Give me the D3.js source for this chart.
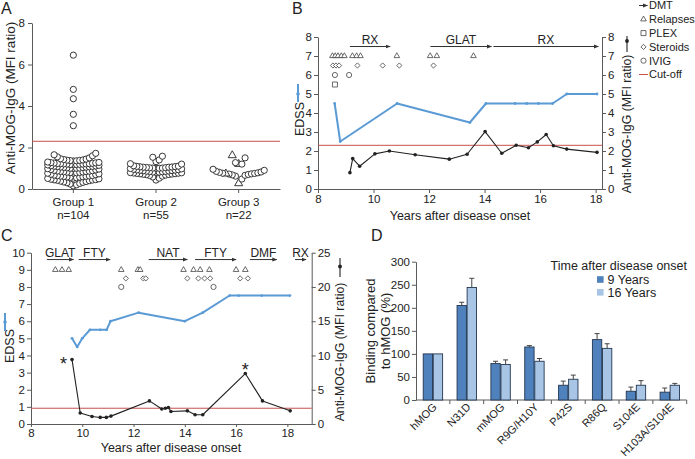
<!DOCTYPE html>
<html><head><meta charset="utf-8">
<script src="https://cdn.jsdelivr.net/npm/d3@7"></script>
<style>
body{margin:0;background:#fff;}
svg{display:block;}
</style></head><body>
<svg id="c" width="695" height="459"></svg>
<script>
// ---------------- DATA ----------------
// Panel A
const groups = ["Group 1", "Group 2", "Group 3"];
const groupN = ["n=104", "n=55", "n=22"];
const group1 = [0.15,0.2,0.24,0.27,0.3,0.32,0.34,0.36,0.38,0.4,0.42,0.43,0.44,0.45,0.47,0.49,0.51,
  0.52,0.54,0.56,0.57,0.58,0.59,0.6,0.61,0.62,0.63,0.64,0.65,0.67,0.69,0.71,0.73,0.76,
  0.77,0.78,0.79,0.8,0.81,0.82,0.83,0.84,0.85,0.86,0.87,0.88,0.9,0.92,0.94,0.96,0.98,
  0.99,1.0,1.0,1.01,1.02,1.03,1.04,1.05,1.06,1.07,1.08,1.09,1.1,1.11,1.12,1.14,1.16,
  1.17,1.18,1.18,1.19,1.2,1.2,1.21,1.21,1.22,1.22,1.23,1.24,1.25,1.26,1.27,1.28,1.3,
  1.35,1.36,1.37,1.38,1.39,1.4,1.42,1.44,1.46,1.5,1.55,1.6,1.65,1.72,
  3.05,3.6,4.35,4.8,6.45];
const group2 = [0.43,0.52,0.58,0.62,0.65,0.67,0.69,0.7,0.71,0.72,0.73,0.74,0.75,0.76,0.77,0.78,0.79,
  0.8,0.81,0.82,0.83,0.84,0.85,0.86,0.87,0.88,0.89,0.9,0.91,0.92,0.93,0.95,0.97,0.99,
  1.0,1.0,1.01,1.01,1.02,1.03,1.04,1.05,1.05,1.06,1.07,1.08,1.09,1.1,1.12,1.2,1.22,
  1.32,1.4,1.53,1.58];
const group3 = [0.27,0.48,0.62,0.66,0.68,0.7,0.72,0.73,0.74,0.75,0.76,0.78,0.8,0.82,0.85,0.9,0.95,
  1.2,1.2,1.27,1.5,1.62];
const group3Shapes = ["t","c","c","c","c","c","c","c","t","c","c","c","c","c","c","c","c",
  "t","c","c","c","t"];
const cutoff = 2.3;
const yTicksA = [0, 2, 4, 6, 8];

// Panel B
const bEdssYears = [8.6, 8.8, 10.85, 13.47, 14.05, 15.1, 15.52, 15.94, 16.45, 16.96, 18.05];
const bEdss      = [4.5, 2.5, 4.5, 3.5, 4.5, 4.5, 4.5, 4.5, 4.5, 5, 5];
const bMfiYears = [9.15, 9.25, 9.5, 10.05, 10.57, 11.5, 12.73, 13.37, 14.02, 14.62, 15.14, 15.58, 15.9, 16.22, 16.48, 16.96, 18.05];
const bMfi      = [0.86, 1.6, 1.2, 1.85, 2.0, 1.8, 1.57, 1.83, 3.02, 1.88, 2.3, 2.17, 2.48, 2.87, 2.28, 2.1, 1.93];
const bRelapses = [8.52, 8.62, 8.72, 8.84, 8.95, 9.24, 9.39, 9.53, 10.84, 12.04, 12.28, 13.6];
const bSteroids = [8.54, 8.65, 8.76, 9.42, 10.33, 10.93, 12.16];
const bIvig = [8.61, 9.12];
const bPlex = [8.61];
const bDmtNames = ["RX", "GLAT", "RX"];
const bDmtStart = [9.15, 12.05, 14.32];
const bDmtEnd   = [10.6, 14.25, 18.1];
const xTicksB = [8, 10, 12, 14, 16, 18];
const yTicksB = [0, 1, 2, 3, 4, 5, 6, 7, 8];
const legendLabels = ["DMT", "Relapses", "PLEX", "Steroids", "IVIG", "Cut-off"];

// Panel C
const cEdssYears = [9.6, 9.8, 10.0, 10.3, 10.7, 10.95, 11.1, 12.2, 14.0, 14.7, 15.75, 16.1, 17.0, 18.1];
const cEdss      = [5, 4.5, 5, 5.5, 5.5, 5.5, 6, 6.5, 6, 6.5, 7.5, 7.5, 7.5, 7.5];
const cMfiYears = [9.6, 9.92, 10.38, 10.7, 10.94, 11.12, 12.62, 13.1, 13.24, 13.36, 13.46, 14.1, 14.4, 14.7, 16.36, 17.03, 18.11];
const cMfi      = [9.4, 1.6, 1.1, 0.96, 0.96, 1.15, 3.37, 2.2, 2.3, 2.4, 1.83, 1.92, 1.35, 1.35, 7.36, 3.37, 1.92];
const cStarYears = [9.6, 16.36];
const cRelapses = [8.95, 9.21, 9.47, 11.52, 12.17, 12.26, 13.95, 14.34, 14.6, 14.96, 16.0, 16.36];
const cSteroids = [11.7, 12.38, 12.48, 14.1, 14.53, 14.77, 14.99, 16.16, 16.46];
const cIvig = [11.52, 15.12];
const cDmtNames = ["GLAT", "FTY", "NAT", "FTY", "DMF", "RX"];
const cDmtStart = [8.62, 9.86, 12.59, 14.4, 16.54, 18.3];
const cDmtEnd   = [9.66, 11.09, 14.1, 16.0, 17.59, 18.73];
const xTicksC = [8, 10, 12, 14, 16, 18];
const yTicksCL = [0,1,2,3,4,5,6,7,8,9,10];
const yTicksCR = [0, 5, 10, 15, 20, 25];

// Panel D
const dCats = ["hMOG", "N31D", "mMOG", "R9G/H10Y", "P42S", "R86Q", "S104E", "H103A/S104E"];
const dSeries = ["9 Years", "16 Years"];
const d9    = [100, 205, 79, 115, 32, 131, 19, 17];
const d9Err = [0, 7, 5, 3, 9, 13, 9, 9];
const d16    = [100, 244, 77, 84, 45, 112, 32, 32];
const d16Err = [0, 20, 10, 6, 9, 10, 10, 4];
const yTicksD = [0, 50, 100, 150, 200, 250, 300];

// ---------------- STYLE ----------------
const FONT = '"Liberation Sans", Arial, Helvetica, sans-serif';
const AX = "#5a5a5a", TXT = "#222";
const BLUE = "#5b9bd5", RED = "#c8504d", SYM = "#444";
const DARKBAR = "#4f81bd", LIGHTBAR = "#a8c5e6", BARSTROKE = "#23364f";

const svg = d3.select("#c").style("font-family", FONT);
const defs = svg.append("defs");
defs.append("marker").attr("id", "ah").attr("viewBox", "0 0 10 10").attr("refX", 9).attr("refY", 5)
  .attr("markerWidth", 5).attr("markerHeight", 5).attr("orient", "auto")
  .append("path").attr("d", "M0,1 L10,5 L0,9 Z").attr("fill", "#333");

function styleAxis(g, fs) {
  g.attr("font-family", null).attr("font-size", null);
  g.select(".domain").attr("stroke", AX);
  g.selectAll(".tick line").attr("stroke", AX);
  g.selectAll(".tick text").attr("fill", TXT).style("font-size", fs + "px").style("font-family", FONT);
}
function triPath(x, y, s) {
  const h = s * 0.866;
  return `M${x},${y - h * 2 / 3}L${x + s / 2},${y + h / 3}L${x - s / 2},${y + h / 3}Z`;
}
function diaPath(x, y, r) { return `M${x},${y - r}L${x + r},${y}L${x},${y + r}L${x - r},${y}Z`; }
function sqPath(x, y, s) { return `M${x - s / 2},${y - s / 2}h${s}v${s}h${-s}Z`; }
function rotText(x, y, txt, fs) {
  return svg.append("text").attr("transform", `translate(${x},${y}) rotate(-90)`)
    .attr("text-anchor", "middle").attr("dy", "0.35em").attr("fill", TXT)
    .style("font-size", fs + "px").text(txt);
}
function panelLetter(x, y, t) {
  svg.append("text").attr("x", x).attr("y", y).attr("fill", TXT).style("font-size", "16px").text(t);
}

// ---------------- PANEL A ----------------
panelLetter(1, 14, "A");
const xA = d3.scaleBand().domain(groups).range([32, 280]);
const yA = d3.scaleLinear().domain([0, 8]).range([189, 23]);
svg.append("g").attr("transform", "translate(32,0)")
  .call(d3.axisLeft(yA).tickValues(yTicksA).tickSize(4).tickSizeOuter(0).tickPadding(3))
  .call(g => styleAxis(g, 11.5));
svg.append("g").attr("transform", "translate(0,189)")
  .call(d3.axisBottom(xA).tickSize(4).tickSizeOuter(0).tickFormat(""))
  .call(g => styleAxis(g, 11.5));
groups.forEach((gname, i) => {
  const cx = xA(gname) + xA.bandwidth() / 2;
  svg.append("text").attr("x", cx).attr("y", 205.5).attr("text-anchor", "middle").attr("fill", TXT)
    .style("font-size", "11.5px").text(gname);
  svg.append("text").attr("x", cx).attr("y", 218.5).attr("text-anchor", "middle").attr("fill", TXT)
    .style("font-size", "11.5px").text(groupN[i]);
});
rotText(10, 98, "Anti-MOG-IgG (MFI ratio)", 13.5);
svg.append("line").attr("x1", 32).attr("x2", 280).attr("y1", yA(cutoff)).attr("y2", yA(cutoff))
  .attr("stroke", RED).attr("stroke-width", 1);

function swarm(values, shapes, cx) {
  const pts = [];
  const low = values.map((v, i) => i).filter(i => values[i] < cutoff).sort((a, b) => values[a] - values[b]);
  const step = 3.2, size = 17;
  for (let s = 0; s < low.length; s += size) {
    const chunk = low.slice(s, s + size);
    chunk.forEach((idx, j) => {
      const k = j === 0 ? 0 : (j % 2 === 1 ? (j + 1) / 2 : -j / 2);
      pts.push({ x: cx + k * step, v: values[idx], s: shapes ? shapes[idx] : "c" });
    });
  }
  values.forEach((v, i) => { if (v >= cutoff) pts.push({ x: cx, v: v, s: shapes ? shapes[i] : "c" }); });
  return pts;
}
[group1, group2, group3].forEach((vals, gi) => {
  const cx = xA(groups[gi]) + xA.bandwidth() / 2;
  const pts = swarm(vals, gi === 2 ? group3Shapes : null, cx);
  const g = svg.append("g");
  pts.forEach(p => {
    if (p.s === "t") {
      g.append("path").attr("d", triPath(p.x, yA(p.v), 8)).attr("fill", "#fff")
        .attr("stroke", "#222").attr("stroke-width", 0.9);
    } else {
      g.append("circle").attr("cx", p.x).attr("cy", yA(p.v)).attr("r", 3.1)
        .attr("fill", "#fff").attr("stroke", "#222").attr("stroke-width", 0.9);
    }
  });
});

// ---------------- PANEL B ----------------
panelLetter(292, 14, "B");
const xB = d3.scaleLinear().domain([8, 18.23]).range([318, 602]);
const yB = d3.scaleLinear().domain([0, 8]).range([189, 37]);
const yBR = d3.scaleLinear().domain([0, 8]).range([189, 37]);
svg.append("g").attr("transform", "translate(318,0)")
  .call(d3.axisLeft(yB).tickValues(yTicksB).tickSize(4).tickSizeOuter(0).tickPadding(2))
  .call(g => styleAxis(g, 11.5));
svg.append("g").attr("transform", "translate(602,0)")
  .call(d3.axisRight(yBR).tickValues(yTicksB).tickSize(4).tickSizeOuter(0).tickPadding(2))
  .call(g => styleAxis(g, 11.5));
svg.append("g").attr("transform", "translate(0,189)")
  .call(d3.axisBottom(xB).tickValues(xTicksB).tickSize(4).tickSizeOuter(0).tickPadding(2))
  .call(g => styleAxis(g, 11.5));
svg.append("text").attr("x", 460).attr("y", 220).attr("text-anchor", "middle").attr("fill", TXT)
  .style("font-size", "12.5px").text("Years after disease onset");
rotText(300, 119, "EDSS", 12.5);
rotText(627, 124, "Anti-MOG-IgG (MFI ratio)", 12.3);
// small series keys beside the axis titles
svg.append("line").attr("x1", 298).attr("x2", 298).attr("y1", 84).attr("y2", 102).attr("stroke", BLUE).attr("stroke-width", 2);
svg.append("circle").attr("cx", 298).attr("cy", 94).attr("r", 1.8).attr("fill", BLUE);
svg.append("line").attr("x1", 627).attr("x2", 627).attr("y1", 36).attr("y2", 52).attr("stroke", "#222").attr("stroke-width", 1.1);
svg.append("circle").attr("cx", 627).attr("cy", 41).attr("r", 1.9).attr("fill", "#222");

svg.append("line").attr("x1", 318).attr("x2", 602).attr("y1", yBR(cutoff)).attr("y2", yBR(cutoff))
  .attr("stroke", RED).attr("stroke-width", 1);

function drawSeries(xs, ys, xsc, ysc, color, w, r) {
  const data = xs.map((x, i) => [x, ys[i]]);
  svg.append("path").datum(data)
    .attr("d", d3.line().x(d => xsc(d[0])).y(d => ysc(d[1])))
    .attr("fill", "none").attr("stroke", color).attr("stroke-width", w).attr("stroke-linejoin", "round");
  svg.append("g").selectAll("circle").data(data).join("circle")
    .attr("cx", d => xsc(d[0])).attr("cy", d => ysc(d[1])).attr("r", r).attr("fill", color);
}
drawSeries(bEdssYears, bEdss, xB, yB, BLUE, 2, 1.4);
drawSeries(bMfiYears, bMfi, xB, yBR, "#222", 1.1, 1.8);

function drawEvents(xsc, ysc, rel, relY, ster, sterY, ivig, ivigY, plex, plexY) {
  const g = svg.append("g").attr("fill", "#fff").attr("stroke", SYM).attr("stroke-width", 0.8);
  rel.forEach(t => g.append("path").attr("d", triPath(xsc(t), ysc(relY), 5.6)));
  ster.forEach(t => g.append("path").attr("d", diaPath(xsc(t), ysc(sterY), 2.6)));
  ivig.forEach(t => g.append("circle").attr("cx", xsc(t)).attr("cy", ysc(ivigY)).attr("r", 2.6));
  plex.forEach(t => g.append("path").attr("d", sqPath(xsc(t), ysc(plexY), 5)));
}
drawEvents(xB, yB, bRelapses, 7, bSteroids, 6.5, bIvig, 6, bPlex, 5.5);

function drawDmt(names, st, en, xsc, yPix) {
  names.forEach((n, i) => {
    svg.append("line").attr("x1", xsc(st[i])).attr("x2", xsc(en[i])).attr("y1", yPix).attr("y2", yPix)
      .attr("stroke", "#333").attr("stroke-width", 1).attr("marker-end", "url(#ah)");
    svg.append("text").attr("x", (xsc(st[i]) + xsc(en[i])) / 2).attr("y", yPix - 2.5)
      .attr("text-anchor", "middle").attr("fill", TXT).style("font-size", "12px").text(n);
  });
}
drawDmt(bDmtNames, bDmtStart, bDmtEnd, xB, yB(7.5));

// legend
const lg = svg.append("g");
legendLabels.forEach((lab, i) => {
  const y = 5.5 + i * 13.8, sx = 643.5;
  if (i === 0) lg.append("line").attr("x1", 639).attr("x2", 647.5).attr("y1", y).attr("y2", y)
    .attr("stroke", "#333").attr("stroke-width", 1).attr("marker-end", "url(#ah)");
  if (i === 1) lg.append("path").attr("d", triPath(sx, y, 5.6)).attr("fill", "#fff").attr("stroke", SYM).attr("stroke-width", 0.8);
  if (i === 2) lg.append("path").attr("d", sqPath(sx, y, 5)).attr("fill", "#fff").attr("stroke", SYM).attr("stroke-width", 0.8);
  if (i === 3) lg.append("path").attr("d", diaPath(sx, y, 2.6)).attr("fill", "#fff").attr("stroke", SYM).attr("stroke-width", 0.8);
  if (i === 4) lg.append("circle").attr("cx", sx).attr("cy", y).attr("r", 2.6).attr("fill", "#fff").attr("stroke", SYM).attr("stroke-width", 0.8);
  if (i === 5) lg.append("line").attr("x1", 639).attr("x2", 648).attr("y1", y).attr("y2", y).attr("stroke", RED).attr("stroke-width", 1);
  lg.append("text").attr("x", 649).attr("y", y).attr("dy", "0.36em").attr("fill", TXT)
    .style("font-size", "11px").text(lab);
});

// ---------------- PANEL C ----------------
panelLetter(1, 241, "C");
const xC = d3.scaleLinear().domain([8, 18.95]).range([31, 311.7]);
const yC = d3.scaleLinear().domain([0, 10]).range([424, 252.7]);
const yCR = d3.scaleLinear().domain([0, 25]).range([424, 252.7]);
svg.append("g").attr("transform", "translate(31,0)")
  .call(d3.axisLeft(yC).tickValues(yTicksCL).tickSize(4).tickSizeOuter(0).tickPadding(2))
  .call(g => styleAxis(g, 11.5));
svg.append("g").attr("transform", "translate(311.7,0)")
  .call(d3.axisRight(yCR).tickValues(yTicksCR).tickSize(4).tickSizeOuter(0).tickPadding(2))
  .call(g => styleAxis(g, 11.5));
svg.append("g").attr("transform", "translate(0,424)")
  .call(d3.axisBottom(xC).tickValues(xTicksC).tickSize(3).tickSizeOuter(0).tickPadding(1.5))
  .call(g => styleAxis(g, 11.5));
svg.append("text").attr("x", 171).attr("y", 452).attr("text-anchor", "middle").attr("fill", TXT)
  .style("font-size", "12.5px").text("Years after disease onset");
rotText(10, 346, "EDSS", 12.5);
rotText(340, 352, "Anti-MOG-IgG (MFI ratio)", 12.3);
svg.append("line").attr("x1", 5).attr("x2", 5).attr("y1", 313).attr("y2", 331).attr("stroke", BLUE).attr("stroke-width", 2);
svg.append("circle").attr("cx", 5).attr("cy", 322).attr("r", 1.8).attr("fill", BLUE);
svg.append("line").attr("x1", 340).attr("x2", 340).attr("y1", 258).attr("y2", 277).attr("stroke", "#222").attr("stroke-width", 1.1);
svg.append("circle").attr("cx", 340).attr("cy", 266.5).attr("r", 1.9).attr("fill", "#222");

svg.append("line").attr("x1", 31).attr("x2", 311.7).attr("y1", yCR(cutoff)).attr("y2", yCR(cutoff))
  .attr("stroke", RED).attr("stroke-width", 1);
drawSeries(cEdssYears, cEdss, xC, yC, BLUE, 2, 1.4);
drawSeries(cMfiYears, cMfi, xC, yCR, "#222", 1.1, 1.8);
drawEvents(xC, yC, cRelapses, 9, cSteroids, 8.5, cIvig, 8, [], 0);
drawDmt(cDmtNames, cDmtStart, cDmtEnd, xC, yC(9.6));
// asterisks on the two positive samples
cStarYears.forEach((t, i) => {
  const v = cMfi[cMfiYears.indexOf(t)];
  const x = xC(t) + (i === 0 ? -8.5 : 0);
  const y = yCR(v) + (i === 0 ? 10.5 : 2.5);
  svg.append("text").attr("x", x).attr("y", y).attr("text-anchor", "middle").attr("fill", TXT)
    .style("font-size", "18px").text("*");
});

// ---------------- PANEL D ----------------
panelLetter(371, 241, "D");
const xD = d3.scaleBand().domain(dCats).range([416, 686.7]);
const xDin = d3.scaleBand().domain(dSeries).range([-9.7, 9.7]).paddingInner(0.07);
const yD = d3.scaleLinear().domain([0, 300]).range([400, 261.7]);
svg.append("g").attr("transform", "translate(416,0)")
  .call(d3.axisLeft(yD).tickValues(yTicksD).tickSize(4).tickSizeOuter(0).tickPadding(2))
  .call(g => styleAxis(g, 11.5));
// category axis with ticks on band boundaries
svg.append("line").attr("x1", 416).attr("x2", 686.7).attr("y1", 400).attr("y2", 400).attr("stroke", AX);
dCats.forEach((c, i) => {
  const bx = xD(c) + xD.bandwidth();
  svg.append("line").attr("x1", bx).attr("x2", bx).attr("y1", 400).attr("y2", 404).attr("stroke", AX);
});
dCats.forEach(c => {
  const cx = xD(c) + xD.bandwidth() / 2;
  svg.append("text").attr("transform", `translate(${cx + 2},${405}) rotate(-45)`)
    .attr("text-anchor", "end").attr("dy", "0.35em").attr("fill", TXT)
    .style("font-size", "11px").text(c);
});
const seriesVals = [d9, d16], seriesErr = [d9Err, d16Err], seriesCol = [DARKBAR, LIGHTBAR];
dSeries.forEach((s, si) => {
  dCats.forEach((c, ci) => {
    const cx = xD(c) + xD.bandwidth() / 2;
    const x0 = cx + xDin(s), w = xDin.bandwidth();
    const v = seriesVals[si][ci], e = seriesErr[si][ci];
    svg.append("rect").attr("x", x0).attr("y", yD(v)).attr("width", w).attr("height", yD(0) - yD(v))
      .attr("fill", seriesCol[si]).attr("stroke", BARSTROKE).attr("stroke-width", 0.9);
    if (e > 0) {
      const mx = x0 + w / 2;
      svg.append("line").attr("x1", mx).attr("x2", mx).attr("y1", yD(v)).attr("y2", yD(v + e)).attr("stroke", "#444").attr("stroke-width", 1);
      svg.append("line").attr("x1", mx - 2.5).attr("x2", mx + 2.5).attr("y1", yD(v + e)).attr("y2", yD(v + e)).attr("stroke", "#444").attr("stroke-width", 1);
    }
  });
});
svg.append("text").attr("transform", "translate(370,331) rotate(-90)").attr("text-anchor", "middle")
  .attr("fill", TXT).style("font-size", "13px")
  .selectAll("tspan").data(["Binding compared", "to hMOG (%)"]).join("tspan")
  .attr("x", 0).attr("dy", (d, i) => i === 0 ? "0.35em" : "1.15em").text(d => d);
svg.append("text").attr("x", 687).attr("y", 269.5).attr("text-anchor", "end").attr("fill", TXT)
  .style("font-size", "12.5px").text("Time after disease onset");
dSeries.forEach((s, i) => {
  const y = 279.5 + i * 12.8;
  svg.append("rect").attr("x", 597).attr("y", y - 3.3).attr("width", 6.6).attr("height", 6.6).attr("fill", seriesCol[i]);
  svg.append("text").attr("x", 607.5).attr("y", y).attr("dy", "0.36em").attr("fill", TXT)
    .style("font-size", "12.5px").text(s);
});
</script>
</body></html>
